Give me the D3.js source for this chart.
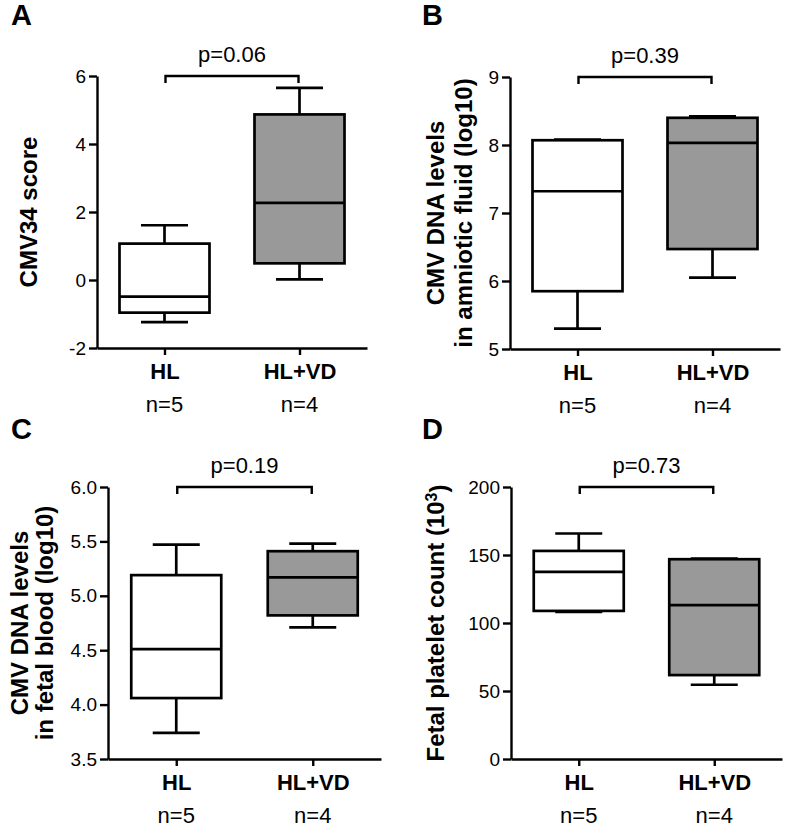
<!DOCTYPE html>
<html>
<head>
<meta charset="utf-8">
<script src="https://cdn.jsdelivr.net/npm/d3@7"></script>
<style>
  body { margin: 0; background: #fff; }
  svg text { font-family: "Liberation Sans", Arial, sans-serif; fill: #000; }
</style>
</head>
<body>
<div class="figDiv"></div>
<script>
// groups and sample sizes shared by all four panels
var groups = ["HL", "HL+VD"];
var nLabels = ["n=5", "n=4"];

// box stats per group: [min, q1, median, q3, max]
var cmv34Score = [[-1.24, -0.96, -0.49, 1.07, 1.61], [0.02, 0.49, 2.27, 4.87, 5.65]];
var amnioticDNA = [[5.30, 5.85, 7.32, 8.07, 8.08], [6.05, 6.47, 8.03, 8.40, 8.42]];
var fetalBloodDNA = [[3.74, 4.06, 4.51, 5.19, 5.47], [4.71, 4.82, 5.17, 5.41, 5.48]];
var plateletCount = [[108.2, 108.9, 137.6, 153.0, 165.8], [54.6, 61.7, 113.1, 146.9, 147.4]];

// y tick values
var ticksA = [-2, 0, 2, 4, 6];
var ticksB = [5, 6, 7, 8, 9];
var ticksC = [3.5, 4.0, 4.5, 5.0, 5.5, 6.0];
var ticksD = [0, 50, 100, 150, 200];

var pValues = ["p=0.06", "p=0.39", "p=0.19", "p=0.73"];

// plain hyphen for negatives, like the original figure
var fmtInt = function(d) { return String(d); };
var fmt1 = function(d) { return d.toFixed(1); };

// panel layout (pixels): axis left, right, top, bottom, title x for each line
var panels = [
  {letter: "A", lx: 11, ly: 25, data: cmv34Score, ticks: ticksA, fmt: fmtInt, p: pValues[0],
   x0: 97, x1: 367, y0: 76, y1: 348, titles: [["CMV34 score"]], tx: [28]},
  {letter: "B", lx: 422, ly: 25, data: amnioticDNA, ticks: ticksB, fmt: fmtInt, p: pValues[1],
   x0: 510, x1: 780, y0: 77, y1: 349, titles: [["CMV DNA levels"], ["in amniotic fluid (log10)"]], tx: [435, 463]},
  {letter: "C", lx: 11, ly: 439, data: fetalBloodDNA, ticks: ticksC, fmt: fmt1, p: pValues[2],
   x0: 108, x1: 381, y0: 487, y1: 759, titles: [["CMV DNA levels"], ["in fetal blood (log10)"]], tx: [19, 44]},
  {letter: "D", lx: 422, ly: 439, data: plateletCount, ticks: ticksD, fmt: fmtInt, p: pValues[3],
   x0: 511, x1: 782, y0: 487, y1: 759, titles: [["Fetal platelet count (10", "3", ")"]], tx: [435]}
];

var fills = ["#ffffff", "#999999"];
var boxW = 90, capW = 47;

var svg = d3.select('div.figDiv').append('svg')
  .attr('width', 787).attr('height', 828);

panels.forEach(function(pn) {
  var g = svg.append('g');

  var x = d3.scalePoint().domain(groups).range([pn.x0, pn.x1]).padding(0.5);
  var y = d3.scaleLinear().domain(d3.extent(pn.ticks)).range([pn.y1, pn.y0]);

  // panel letter
  g.append('text').attr('x', pn.lx).attr('y', pn.ly)
    .style('font-size', '29px').style('font-weight', 'bold').text(pn.letter);

  // y axis
  var yAx = g.append('g').attr('transform', 'translate(' + pn.x0 + ',0)')
    .call(d3.axisLeft(y).tickValues(pn.ticks).tickFormat(pn.fmt).tickSize(8).tickSizeOuter(0).tickPadding(3));
  yAx.selectAll('text').style('font-size', '19px');

  // x axis
  var xAx = g.append('g').attr('transform', 'translate(0,' + pn.y1 + ')')
    .call(d3.axisBottom(x).tickSize(7).tickSizeOuter(0).tickPadding(8));
  xAx.selectAll('text').style('font-size', '22px').style('font-weight', 'bold');

  [yAx, xAx].forEach(function(a) {
    a.select('.domain').attr('stroke-width', 2.4);
    a.selectAll('.tick line').attr('stroke-width', 2.4);
    a.selectAll('text').attr('fill', '#000');
  });

  // n labels
  g.selectAll('text.nlab').data(nLabels).enter().append('text').attr('class', 'nlab')
    .attr('x', function(d, i) { return x(groups[i]); })
    .attr('y', pn.y1 + 64)
    .attr('text-anchor', 'middle').style('font-size', '22px').text(function(d) { return d; });

  // boxes
  var bx = g.selectAll('g.box').data(pn.data).enter().append('g').attr('class', 'box');
  bx.append('line')
    .attr('x1', function(d, i) { return x(groups[i]); }).attr('x2', function(d, i) { return x(groups[i]); })
    .attr('y1', function(d) { return y(d[0]); }).attr('y2', function(d) { return y(d[4]); })
    .attr('stroke', '#000').attr('stroke-width', 2.7);
  [0, 4].forEach(function(k) {
    bx.append('line')
      .attr('x1', function(d, i) { return x(groups[i]) - capW / 2; })
      .attr('x2', function(d, i) { return x(groups[i]) + capW / 2; })
      .attr('y1', function(d) { return y(d[k]); }).attr('y2', function(d) { return y(d[k]); })
      .attr('stroke', '#000').attr('stroke-width', 2.7);
  });
  bx.append('rect')
    .attr('x', function(d, i) { return x(groups[i]) - boxW / 2; })
    .attr('width', boxW)
    .attr('y', function(d) { return y(d[3]); })
    .attr('height', function(d) { return y(d[1]) - y(d[3]); })
    .attr('fill', function(d, i) { return fills[i]; })
    .attr('stroke', '#000').attr('stroke-width', 2.7);
  bx.append('line')
    .attr('x1', function(d, i) { return x(groups[i]) - boxW / 2; })
    .attr('x2', function(d, i) { return x(groups[i]) + boxW / 2; })
    .attr('y1', function(d) { return y(d[2]); }).attr('y2', function(d) { return y(d[2]); })
    .attr('stroke', '#000').attr('stroke-width', 2.7);

  // significance bracket
  var bxl = x(groups[0]) + 1, bxr = x(groups[1]) - 1, by = pn.y0;
  g.append('path')
    .attr('d', 'M' + bxl + ',' + (by + 7) + 'V' + by + 'H' + bxr + 'V' + (by + 7))
    .attr('fill', 'none').attr('stroke', '#000').attr('stroke-width', 2.4);
  g.append('text').attr('x', (bxl + bxr) / 2).attr('y', by - 14)
    .attr('text-anchor', 'middle').style('font-size', '22px').text(pn.p);

  // y title lines
  var cy = (pn.y0 + pn.y1) / 2;
  pn.titles.forEach(function(parts, li) {
    var t = g.append('text')
      .attr('transform', 'translate(' + (pn.tx[li] + 8.5) + ',' + cy + ') rotate(-90)')
      .attr('text-anchor', 'middle').style('font-size', '24px').style('font-weight', 'bold');
    t.append('tspan').text(parts[0]);
    if (parts.length > 1) {
      t.append('tspan').attr('dy', '-0.42em').style('font-size', '16px').text(parts[1]);
      t.append('tspan').attr('dy', '0.42em').text(parts[2]);
    }
  });
});
</script>
</body>
</html>
